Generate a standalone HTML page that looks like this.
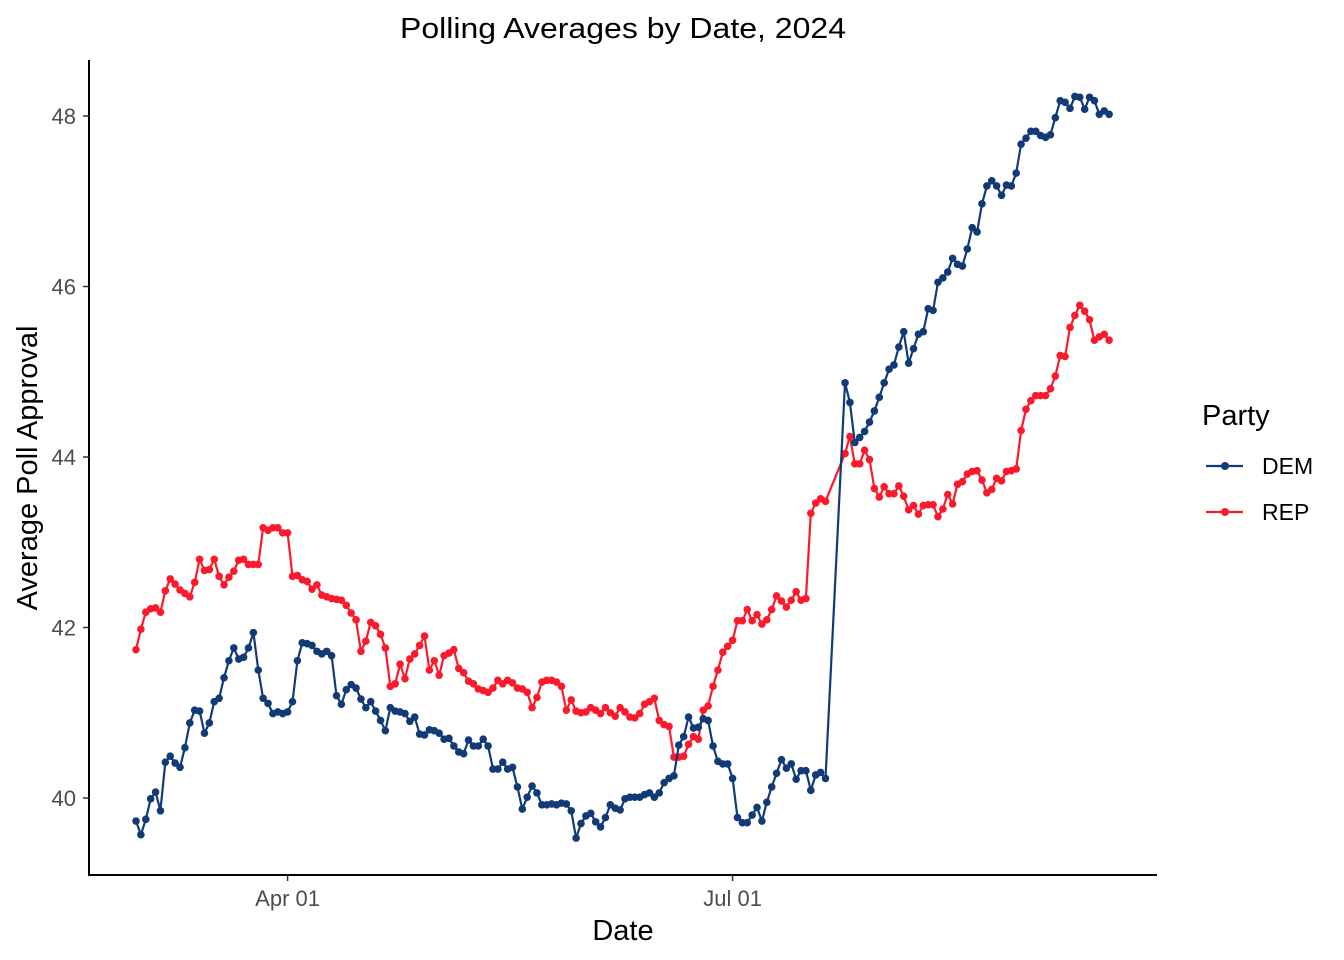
<!DOCTYPE html>
<html><head><meta charset="utf-8"><style>
html,body{margin:0;padding:0;background:#fff;}
svg{display:block;font-family:"Liberation Sans",Arial,sans-serif;}
</style></head><body>
<svg id="chart" width="1344" height="960" viewBox="0 0 1344 960">
<text x="623" y="38" font-size="29" text-anchor="middle" fill="#000" textLength="446" lengthAdjust="spacingAndGlyphs">Polling Averages by Date, 2024</text>
<g id="axes"></g>
<g id="series"></g>
<text x="623" y="940" font-size="29" text-anchor="middle" fill="#000">Date</text>
<text x="0" y="0" font-size="29" text-anchor="middle" fill="#000" transform="translate(37,468) rotate(-90)">Average Poll Approval</text>
<g>
<text x="1202" y="425" font-size="29" fill="#000">Party</text>
<g>
<line x1="1206" y1="466" x2="1243" y2="466" stroke="#123a76" stroke-width="2.2"/>
<circle cx="1225" cy="466" r="4" fill="#123a76"/>
<text x="1262" y="474" font-size="23" fill="#000">DEM</text>
</g>
<g>
<line x1="1206" y1="512" x2="1243" y2="512" stroke="#fb1a2c" stroke-width="2.2"/>
<circle cx="1225" cy="512" r="4" fill="#fb1a2c"/>
<text x="1262" y="520" font-size="23" fill="#000">REP</text>
</g>
</g>
</svg>
<script>
const yTicks = [40, 42, 44, 46, 48];
const xTickLabels = ["Apr 01", "Jul 01"];
const xTickDays = [31, 122];
const segment1Count = 142;
const segment2Start = 145;
const segment2Count = 55;
const dem = [39.73,39.57,39.75,39.99,40.07,39.85,40.42,40.49,40.41,40.36,40.59,40.88,41.03,41.02,40.76,40.88,41.13,41.17,41.41,41.61,41.76,41.63,41.65,41.76,41.94,41.50,41.17,41.11,40.99,41.01,40.99,41.01,41.13,41.61,41.82,41.81,41.79,41.72,41.69,41.72,41.67,41.20,41.10,41.27,41.33,41.29,41.16,41.06,41.13,41.02,40.91,40.79,41.06,41.02,41.01,40.99,40.90,40.95,40.75,40.74,40.80,40.79,40.76,40.69,40.70,40.61,40.54,40.52,40.68,40.61,40.61,40.69,40.61,40.34,40.34,40.42,40.34,40.36,40.13,39.87,40.01,40.14,40.06,39.92,39.92,39.93,39.92,39.94,39.93,39.85,39.53,39.70,39.79,39.82,39.72,39.66,39.77,39.92,39.88,39.86,39.99,40.01,40.01,40.01,40.04,40.06,40.01,40.06,40.18,40.23,40.26,40.62,40.72,40.95,40.82,40.83,40.93,40.91,40.61,40.43,40.40,40.40,40.23,39.77,39.71,39.71,39.80,39.89,39.73,39.95,40.13,40.29,40.45,40.35,40.40,40.22,40.32,40.32,40.09,40.27,40.30,40.23,
44.87,44.64,44.17,44.23,44.30,44.41,44.54,44.70,44.87,45.03,45.08,45.29,45.47,45.10,45.27,45.44,45.47,45.74,45.72,46.05,46.10,46.17,46.33,46.26,46.24,46.44,46.69,46.64,46.97,47.18,47.24,47.18,47.07,47.19,47.18,47.33,47.67,47.74,47.82,47.82,47.77,47.75,47.78,47.98,48.18,48.16,48.09,48.23,48.22,48.08,48.22,48.18,48.02,48.06,48.02];
const rep = [41.74,41.98,42.18,42.22,42.23,42.18,42.43,42.57,42.51,42.44,42.40,42.36,42.53,42.80,42.67,42.68,42.80,42.60,42.50,42.59,42.66,42.79,42.80,42.74,42.74,42.74,43.17,43.14,43.17,43.17,43.11,43.11,42.60,42.61,42.56,42.54,42.45,42.50,42.38,42.36,42.34,42.33,42.32,42.26,42.17,42.09,41.72,41.84,42.06,42.02,41.92,41.76,41.31,41.34,41.57,41.40,41.63,41.69,41.79,41.90,41.50,41.61,41.44,41.67,41.70,41.74,41.52,41.47,41.37,41.34,41.28,41.26,41.24,41.29,41.38,41.34,41.38,41.35,41.29,41.28,41.24,41.06,41.18,41.36,41.38,41.38,41.36,41.31,41.03,41.15,41.02,41.00,41.01,41.06,41.03,40.99,41.06,41.00,40.96,41.06,41.01,40.95,40.94,40.99,41.10,41.13,41.17,40.91,40.86,40.84,40.48,40.48,40.49,40.63,40.72,40.69,41.03,41.08,41.31,41.50,41.71,41.78,41.85,42.08,42.08,42.21,42.08,42.15,42.04,42.09,42.21,42.37,42.31,42.24,42.32,42.42,42.32,42.34,43.34,43.46,43.51,43.48,
44.04,44.24,43.92,43.92,44.08,43.97,43.63,43.53,43.65,43.57,43.57,43.66,43.54,43.38,43.43,43.33,43.43,43.44,43.44,43.30,43.39,43.56,43.45,43.68,43.71,43.80,43.83,43.84,43.73,43.58,43.62,43.75,43.72,43.83,43.84,43.86,44.31,44.56,44.66,44.72,44.72,44.72,44.80,44.95,45.19,45.18,45.52,45.66,45.78,45.71,45.61,45.37,45.41,45.44,45.37];
const days = [];
for (let i = 0; i < segment1Count; i++) days.push(i);
for (let i = 0; i < segment2Count; i++) days.push(segment2Start + i);

const NS = "http://www.w3.org/2000/svg";
function xs(d){ return 136 + d * 4.89; }
function ys(v){ return 798 - (v - 40) * 85.25; }
function mk(tag, attrs, parent){
  const e = document.createElementNS(NS, tag);
  for (const k in attrs) e.setAttribute(k, attrs[k]);
  parent.appendChild(e); return e;
}
const axes = document.getElementById('axes');
const yl = mk('line', {x1:89,y1:60,x2:89,y2:876,stroke:'#000','stroke-width':2}, axes);


const xl = mk('line', {x1:88,y1:875,x2:1157,y2:875,stroke:'#000','stroke-width':2}, axes);


yTicks.forEach(t => {
  const y = ys(t);
  mk('line', {x1:83,y1:y,x2:89,y2:y,stroke:'#333','stroke-width':1.5}, axes);
  const tx = mk('text', {x:76,y:y+8,'font-size':22,'text-anchor':'end',fill:'#4d4d4d'}, axes);
  tx.textContent = t;
  
  
});
xTickDays.forEach((d, i) => {
  const x = xs(d);
  mk('line', {x1:x,y1:875,x2:x,y2:881,stroke:'#333','stroke-width':1.5}, axes);
  const tx = mk('text', {x:x,y:906,'font-size':22,'text-anchor':'middle',fill:'#4d4d4d'}, axes);
  tx.textContent = xTickLabels[i];
  
  
});
const series = document.getElementById('series');
function draw(vals, color, name){
  const g = mk('g', {}, series);
  
  
  const pts = days.map((d, i) => xs(d).toFixed(1) + ',' + ys(vals[i]).toFixed(1)).join(' ');
  const pl = mk('polyline', {points:pts, fill:'none', stroke:color, 'stroke-width':2.2, 'stroke-linejoin':'round'}, g);
  
  
  days.forEach((d, i) => {
    const c = mk('circle', {cx:xs(d), cy:ys(vals[i]), r:3.8, fill:color}, g);
    
    
  });
}
draw(rep, '#fb1a2c', 'rep');
draw(dem, '#123a76', 'dem');
</script>
</body></html>
